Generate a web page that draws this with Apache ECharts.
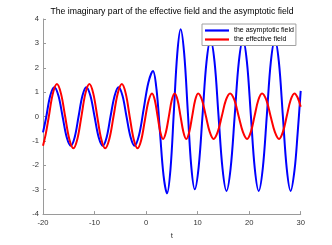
<!DOCTYPE html>
<html>
<head>
<meta charset="utf-8">
<script src="https://cdn.jsdelivr.net/npm/echarts@6/dist/echarts.min.js"></script>
<style>
html,body{margin:0;padding:0;background:#fff;}
#c{width:332px;height:245px;}
</style>
</head>
<body>
<div id="c"></div>
<script>
var titleText = 'The imaginary part of the effective field and the asymptotic field';
var seriesNames = ['the asymptotic field', 'the effective field'];
var xTicks = {min: -20, max: 30, step: 10};
var yTicks = {min: -4, max: 4, step: 1};

var asymptoticField = [
  [-20,-0.65],[-19.4,-0.05],[-18.6,0.85],[-17.8,1.2],[-17.0,0.85],[-16.2,0],[-15.4,-0.85],[-14.6,-1.2],
  [-13.85,-0.85],[-13.1,0],[-12.35,0.85],[-11.6,1.2],[-10.8,0.85],[-10.0,0],[-9.2,-0.85],[-8.4,-1.2],
  [-7.65,-0.85],[-6.9,0],[-6.1,0.85],[-5.35,1.2],[-4.57,0.85],[-3.8,0],[-3.0,-0.85],[-2.24,-1.2],
  [-1.35,-0.75],[-0.45,0.33],[0.45,1.4],[1.34,1.87],[2.02,1.12],[2.7,-0.65],[3.39,-2.42],[4.07,-3.15],
  [4.73,-2.17],[5.39,0.2],[6.05,2.57],[6.71,3.58],[7.39,2.59],[8.07,0.3],[8.76,-2.02],[9.44,-2.98],
  [10.2,-2.07],[10.97,0.1],[11.73,2.25],[12.5,3.15],[13.28,2.25],[14.05,0.05],[14.83,-2.13],[15.6,-3.05],
  [16.4,-2.13],[17.2,0.05],[18.0,2.25],[18.8,3.15],[19.56,2.25],[20.33,0.05],[21.09,-2.13],[21.85,-3.05],
  [22.64,-2.13],[23.43,0.05],[24.21,2.25],[25.0,3.15],[25.76,2.25],[26.53,0.05],[27.29,-2.13],[28.05,-3.05],
  [28.8,-2.2],[29.4,-0.7],[30,1.05]
];

var effectiveField = [
  [-20,-1.2],[-19.45,-0.7],[-18.87,0],[-18.09,0.94],[-17.3,1.33],[-16.51,0.94],[-15.7,0],[-14.9,-0.92],
  [-14.1,-1.3],[-13.33,-0.92],[-12.55,0],[-11.78,0.94],[-11.0,1.33],[-10.24,0.94],[-9.47,0],[-8.7,-0.92],
  [-7.94,-1.3],[-7.13,-0.92],[-6.32,0],[-5.51,0.94],[-4.7,1.33],[-3.94,0.94],[-3.18,0],[-2.41,-0.92],
  [-1.65,-1.3],[-0.95,-0.97],[-0.25,-0.17],[0.45,0.62],[1.15,0.95],[1.69,0.68],[2.23,0.02],[2.76,-0.63],
  [3.3,-0.92],[3.86,-0.63],[4.43,0.02],[4.99,0.68],[5.55,0.95],[6.11,0.68],[6.68,0.02],[7.24,-0.63],
  [7.8,-0.92],[8.38,-0.63],[8.95,0.02],[9.53,0.68],[10.1,0.95],[10.85,0.68],[11.6,0.02],[12.35,-0.63],
  [13.1,-0.92],[13.9,-0.63],[14.7,0.02],[15.5,0.68],[16.3,0.95],[17.13,0.68],[17.95,0.02],[18.78,-0.63],
  [19.6,-0.92],[20.33,-0.63],[21.05,0.02],[21.78,0.68],[22.5,0.95],[23.33,0.68],[24.15,0.02],[24.98,-0.63],
  [25.8,-0.92],[26.55,-0.63],[27.3,0.02],[28.05,0.68],[28.8,0.95],[29.4,0.78],[30,0.4]
];

var FONT = '"Liberation Sans", Arial, sans-serif';
var chart = echarts.init(document.getElementById('c'), null, {renderer: 'canvas'});
var axisCommon = {
  splitLine: {show: false},
  axisLine: {onZero: false, lineStyle: {color: '#9a9a9a', width: 1}},
  axisTick: {inside: true, length: 3, lineStyle: {color: '#9a9a9a'}},
  axisLabel: {fontFamily: FONT, fontSize: 7.6, color: '#333'}
};
chart.setOption({
  animation: false,
  backgroundColor: '#fff',
  title: {
    text: titleText, left: 172, top: 7, textAlign: 'center', padding: 0,
    textStyle: {fontFamily: FONT, fontSize: 8.7, fontWeight: 'normal', color: '#000'}
  },
  legend: {
    orient: 'vertical', left: 202, top: 24,
    padding: [2.5, 2, 2, 3], itemGap: 1, itemTextGap: 2,
    itemWidth: 24, itemHeight: 2.2, icon: 'rect',
    backgroundColor: '#fff', borderColor: '#a0a0a0', borderWidth: 1, z: 10,
    textStyle: {fontFamily: FONT, fontSize: 7, lineHeight: 8, color: '#000'},
    data: seriesNames
  },
  grid: {left: 43, right: 31.3, top: 19, bottom: 26.7, containLabel: false},
  xAxis: Object.assign({}, axisCommon, {
    type: 'value', min: xTicks.min, max: xTicks.max, interval: xTicks.step,
    name: 't', nameLocation: 'middle', nameGap: 15,
    nameTextStyle: {fontFamily: FONT, fontSize: 8, color: '#333'},
    axisLabel: Object.assign({}, axisCommon.axisLabel, {margin: 5})
  }),
  yAxis: Object.assign({}, axisCommon, {
    type: 'value', min: yTicks.min, max: yTicks.max, interval: yTicks.step,
    axisLabel: Object.assign({}, axisCommon.axisLabel, {margin: 4})
  }),
  series: [
    {name: seriesNames[0], type: 'line', data: asymptoticField, smooth: 0.35, showSymbol: false,
     lineStyle: {color: '#0000ff', width: 2}, itemStyle: {color: '#0000ff'}},
    {name: seriesNames[1], type: 'line', data: effectiveField, smooth: 0.35, showSymbol: false,
     lineStyle: {color: '#ff0000', width: 2}, itemStyle: {color: '#ff0000'}}
  ]
});
</script>
</body>
</html>
